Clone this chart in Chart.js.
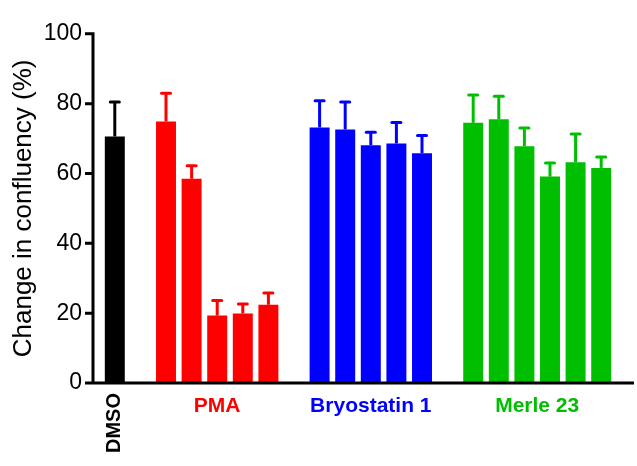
<!DOCTYPE html>
<html>
<head>
<meta charset="utf-8">
<script src="https://cdn.jsdelivr.net/npm/chart.js@4.4.0/dist/chart.umd.min.js"></script>
<style>
  html, body { margin: 0; padding: 0; background: #fff; }
  #wrap { width: 637px; height: 466px; }
</style>
</head>
<body>
<div id="wrap"><canvas id="myChart" width="637" height="466"></canvas></div>
<script>
const ctx = document.getElementById('myChart');
const fontFamily = "'Liberation Sans', Arial, sans-serif";

// groups and their colours
const groupNames = ['DMSO', 'PMA', 'Bryostatin 1', 'Merle 23'];
const groupColors = ['#000000', '#FF0000', '#0000FF', '#00BF00'];

// bar heights (%) and upper error (%)
const dmsoValues = [70.6];
const dmsoErrors = [9.9];
const pmaValues = [74.9, 58.5, 19.3, 19.9, 22.4];
const pmaErrors = [8.1, 3.7, 4.3, 2.7, 3.4];
const bryoValues = [73.2, 72.6, 68.1, 68.6, 65.8];
const bryoErrors = [7.6, 7.9, 3.7, 6.0, 5.1];
const merleValues = [74.5, 75.5, 67.8, 59.1, 63.2, 61.6];
const merleErrors = [8.0, 6.6, 5.2, 3.9, 8.1, 3.1];

const yTicks = [0, 20, 40, 60, 80, 100];

// one category per bar, with an empty category between groups
const groupValues = [dmsoValues, pmaValues, bryoValues, merleValues];
const groupErrors = [dmsoErrors, pmaErrors, bryoErrors, merleErrors];
const labels = [];
const values = [];
const errors = [];
const colors = [];
const groupOf = [];
groupValues.forEach(function (vals, g) {
  if (g > 0) {
    labels.push('');
    values.push(null);
    errors.push(null);
    colors.push('rgba(0,0,0,0)');
    groupOf.push(-1);
  }
  vals.forEach(function (v, i) {
    labels.push(groupNames[g] + ' ' + (i + 1));
    values.push(v);
    errors.push(groupErrors[g][i]);
    colors.push(groupColors[g]);
    groupOf.push(g);
  });
});

// error bars, axis lines and group labels
const decorations = {
  id: 'decorations',
  afterDatasetsDraw(chart) {
    const c = chart.ctx;
    const y = chart.scales.y;
    const area = chart.chartArea;
    const bars = chart.getDatasetMeta(0).data;

    c.save();
    c.lineWidth = 3;
    bars.forEach(function (bar, i) {
      if (values[i] == null) return;
      const base = y.getPixelForValue(values[i]);
      const top = y.getPixelForValue(values[i] + errors[i]);
      c.strokeStyle = colors[i];
      c.beginPath();
      c.moveTo(bar.x, base);
      c.lineTo(bar.x, top);
      c.stroke();
      c.lineCap = 'round';
      c.beginPath();
      c.moveTo(bar.x - 4.5, top);
      c.lineTo(bar.x + 4.5, top);
      c.stroke();
      c.lineCap = 'butt';
    });

    // axes
    const axisX = area.left - 9;
    const y0 = y.getPixelForValue(0);
    c.strokeStyle = '#000';
    c.lineWidth = 3;
    c.beginPath();
    c.moveTo(axisX, y.getPixelForValue(100) - 1.5);
    c.lineTo(axisX, y0);
    c.moveTo(axisX - 1.5, y0);
    c.lineTo(area.right + 20, y0);
    yTicks.forEach(function (t) {
      const py = y.getPixelForValue(t);
      c.moveTo(axisX - 8, py);
      c.lineTo(axisX, py);
    });
    c.stroke();

    // group labels
    groupNames.forEach(function (name, g) {
      const xs = bars.filter(function (b, i) { return groupOf[i] === g; }).map(function (b) { return b.x; });
      const cx = (Math.min.apply(null, xs) + Math.max.apply(null, xs)) / 2;
      c.fillStyle = groupColors[g];
      c.textBaseline = 'middle';
      if (g === 0) {
        c.save();
        c.translate(cx, y0 + 40);
        c.rotate(-Math.PI / 2);
        c.textAlign = 'center';
        c.font = 'bold 20px ' + fontFamily;
        c.fillText(name, 0, 0);
        c.restore();
      } else {
        c.textAlign = 'center';
        c.font = 'bold 21px ' + fontFamily;
        c.fillText(name, cx, y0 + 23);
      }
    });
    c.restore();
  }
};

new Chart(ctx, {
  type: 'bar',
  data: {
    labels: labels,
    datasets: [{
      data: values,
      backgroundColor: colors,
      borderWidth: 0,
      barPercentage: 0.78,
      categoryPercentage: 1
    }]
  },
  options: {
    responsive: false,
    animation: false,
    devicePixelRatio: 1,
    layout: { padding: { top: 23, right: 23, bottom: 83, left: 0 } },
    plugins: {
      legend: { display: false },
      tooltip: { enabled: false }
    },
    scales: {
      x: { display: false, offset: true },
      y: {
        min: 0,
        max: 100,
        afterFit: function (s) { s.width = 102; },
        afterBuildTicks: function (s) { s.ticks = yTicks.map(function (v) { return { value: v }; }); },
        grid: { display: false, drawTicks: false },
        border: { display: false },
        ticks: { padding: 20, color: '#000', font: { family: fontFamily, size: 23 } },
        title: {
          display: true,
          text: 'Change in confluency (%)',
          color: '#000',
          font: { family: fontFamily, size: 26 },
          padding: { top: 8, bottom: 0 }
        }
      }
    }
  },
  plugins: [decorations]
});
</script>
</body>
</html>
